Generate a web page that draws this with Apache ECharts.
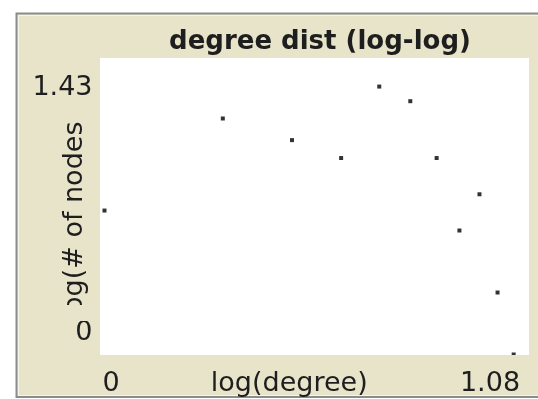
<!DOCTYPE html>
<html><head><meta charset="utf-8">
<script src="https://cdn.jsdelivr.net/npm/echarts@6/dist/echarts.min.js"></script>
<style>html,body{margin:0;padding:0;background:#fff;}#c{width:538px;height:399px;}</style>
</head><body><div id="c"></div>
<script>
const chartTitle = 'degree dist (log-log)';
const xName = 'log(degree)';
const yName = 'log(# of nodes)';
const logDegree = [0, 0.301, 0.477, 0.602, 0.699, 0.778, 0.845, 0.903, 0.954, 1.0, 1.041];
const logCount  = [0.699, 1.146, 1.041, 0.954, 1.301, 1.230, 0.954, 0.602, 0.778, 0.301, 0];
const xRange = [0, 1.08];
const yRange = [0, 1.43];
const xTickLabels = ['0', '1.08'];
const yTickLabels = ['0', '1.43'];

const FONT = 'DejaVu Sans';
const BEIGE = '#E7E4CA';
const TXT = '#1e1e1e';
const points = logDegree.map((x, i) => [x, logCount[i]]);

const chart = echarts.init(document.getElementById('c'), null, {renderer: 'canvas'});
const near = (a, b) => Math.abs(a - b) < 1e-6;
chart.setOption({
  animation: false,
  backgroundColor: '#ffffff',
  title: {
    text: chartTitle, left: 315, top: 24, textAlign: 'center',
    textStyle: {fontFamily: FONT, fontSize: 26, fontWeight: 'bold', color: TXT}
  },
  grid: {left: 104.5, right: 9, top: 60, bottom: 44.5, containLabel: false, outerBoundsMode: 'none'},
  xAxis: {
    type: 'value', min: xRange[0], max: xRange[1], interval: xRange[1] - xRange[0],
    name: xName, nameLocation: 'middle', nameGap: 16, nameMoveOverlap: false,
    nameTextStyle: {fontFamily: FONT, fontSize: 27, color: TXT, padding: [0, 55, 0, 0], verticalAlign: 'top'},
    axisLine: {show: false}, axisTick: {show: false}, splitLine: {show: false},
    axisLabel: {
      margin: 16, fontFamily: FONT, fontSize: 27, color: TXT,
      showMinLabel: true, showMaxLabel: true,
      formatter: v => near(v, xRange[0]) ? '{lo|' + xTickLabels[0] + '}' : (near(v, xRange[1]) ? '{hi|' + xTickLabels[1] + '}' : ''),
      rich: {
        lo: {fontFamily: FONT, fontSize: 27, color: TXT, padding: [0, 0, 0, 13]},
        hi: {fontFamily: FONT, fontSize: 27, color: TXT, padding: [0, 78, 0, 0]}
      }
    }
  },
  yAxis: {
    type: 'value', min: yRange[0], max: yRange[1], interval: yRange[1] - yRange[0],
    name: yName, nameLocation: 'middle', nameGap: 16, nameMoveOverlap: false,
    nameTextStyle: {fontFamily: FONT, fontSize: 27, color: TXT, padding: [0, 17, 0, 0]},
    axisLine: {show: false}, axisTick: {show: false}, splitLine: {show: false},
    axisLabel: {
      margin: 12, fontFamily: FONT, fontSize: 27, color: TXT,
      showMinLabel: true, showMaxLabel: true,
      formatter: v => near(v, yRange[0]) ? '{lo|' + yTickLabels[0] + '}' : (near(v, yRange[1]) ? '{hi|' + yTickLabels[1] + '}' : ''),
      rich: {
        lo: {fontFamily: FONT, fontSize: 27, color: TXT, padding: [0, 0, 43, 0]},
        hi: {fontFamily: FONT, fontSize: 27, color: TXT, padding: [56, 0, 0, 0]}
      }
    }
  },
  graphic: {
    z: 100,
    elements: [
      {type: 'rect', z: -20, silent: true, shape: {x: 16.5, y: 13.5, width: 530, height: 383.5},
       style: {fill: BEIGE, stroke: '#8c8c8c', lineWidth: 2}},
      {type: 'rect', z: -19, silent: true, shape: {x: 18.5, y: 15.5, width: 530, height: 380},
       style: {fill: null, stroke: '#f6f5ec', lineWidth: 1}},
      {type: 'rect', z: -18, silent: true, shape: {x: 100, y: 58, width: 429, height: 297},
       style: {fill: '#ffffff'}},
      {type: 'rect', z: 100, silent: true, shape: {x: 96, y: 355, width: 436, height: 7},
       style: {fill: BEIGE}},
      {type: 'rect', z: 100, silent: true, shape: {x: 50, y: 100, width: 48, height: 20.5},
       style: {fill: BEIGE}},
      {type: 'rect', z: 100, silent: true, shape: {x: 50, y: 305, width: 48, height: 16},
       style: {fill: BEIGE}}
    ]
  },
  series: [{
    type: 'scatter', data: points, symbol: 'rect', symbolSize: 4, clip: false,
    itemStyle: {color: '#000000'}
  }]
});
</script></body></html>
